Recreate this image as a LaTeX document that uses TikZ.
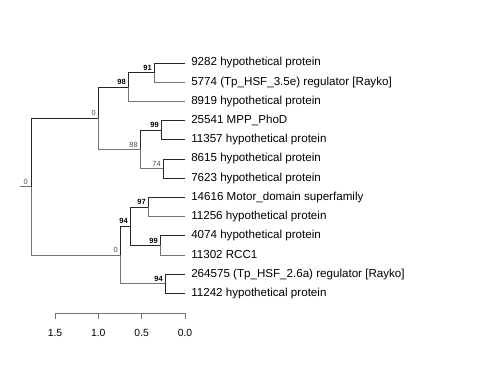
\documentclass[tikz,border=0pt]{standalone}
\usepackage{fontspec}
\setmainfont{Liberation Sans}
\usetikzlibrary{calc}
\definecolor{edgedark}{gray}{0.15}
\definecolor{edgelight}{gray}{0.45}
\def\TipX{185}
\def\Gap{19.2}

\begin{document}
\begin{tikzpicture}[x=0.75pt,y=-0.75pt,
  leaf/.style={anchor=west, inner xsep=4.5pt, inner ysep=0pt, font=\fontsize{8.7}{10}\selectfont},
  boot/.style={anchor=south east, inner sep=0.4pt, font=\fontsize{5.6}{6}\selectfont\bfseries},
  weak/.style={anchor=south east, inner sep=0.4pt, text=black!70, font=\fontsize{5.6}{6}\selectfont},
  br/.style={draw=edgedark, line width=0.6pt},
  brl/.style={draw=edgelight, line width=0.6pt},
  tick/.style={font=\fontsize{7.8}{9}\selectfont}]
\useasboundingbox (0,0) rectangle (480,384);

% tips
\node[leaf] (t9282) at (\TipX, 63) {9282 hypothetical protein};
\node[leaf] (t5774) at (\TipX, 63 + 1*\Gap) {5774 (Tp\_HSF\_3.5e) regulator [Rayko]};
\node[leaf] (t8919) at (\TipX, 63 + 2*\Gap) {8919 hypothetical protein};
\node[leaf] (t25541) at (\TipX, 63 + 3*\Gap) {25541 MPP\_PhoD};
\node[leaf] (t11357) at (\TipX, 63 + 4*\Gap) {11357 hypothetical protein};
\node[leaf] (t8615) at (\TipX, 63 + 5*\Gap) {8615 hypothetical protein};
\node[leaf] (t7623) at (\TipX, 63 + 6*\Gap) {7623 hypothetical protein};
\node[leaf] (t14616) at (\TipX, 63 + 7*\Gap) {14616 Motor\_domain superfamily};
\node[leaf] (t11256) at (\TipX, 63 + 8*\Gap) {11256 hypothetical protein};
\node[leaf] (t4074) at (\TipX, 63 + 9*\Gap) {4074 hypothetical protein};
\node[leaf] (t11302) at (\TipX, 63 + 10*\Gap) {11302 RCC1};
\node[leaf] (t264575) at (\TipX, 63 + 11*\Gap) {264575 (Tp\_HSF\_2.6a) regulator [Rayko]};
\node[leaf] (t11242) at (\TipX, 63 + 12*\Gap) {11242 hypothetical protein};

% inner nodes
\coordinate (n91) at (154, 72.6);
\coordinate (n98) at (128, 87);
\coordinate (n99a) at (161, 130.2);
\coordinate (n74) at (163, 168.6);
\coordinate (n88) at (140, 149.4);
\coordinate (up0) at (98, 118.2);
\coordinate (n97) at (148, 207);
\coordinate (n99b) at (160, 245.4);
\coordinate (n94a) at (130, 226.2);
\coordinate (n94b) at (165, 283.8);
\coordinate (lo0) at (120, 255);
\coordinate (root) at (31, 186.6);
\coordinate (stub) at (20, 186.6);

% branches
\draw[brl] (stub) -- (root);
\draw[br] (root) |- (up0);
\draw[brl] (root) |- (lo0);
\draw[br] (up0) |- (n98);
\draw[brl] (up0) |- (n88);
\draw[br] (n98) |- (n91);
\draw[brl] (n98) |- (t8919.west);
\draw[br] (n91) |- (t9282.west);
\draw[brl] (n91) |- (t5774.west);
\draw[br] (n88) |- (n99a);
\draw[brl] (n88) |- (n74);
\draw[br] (n99a) |- (t25541.west);
\draw[br] (n99a) |- (t11357.west);
\draw[br] (n74) |- (t8615.west);
\draw[br] (n74) |- (t7623.west);
\draw[br] (lo0) |- (n94a);
\draw[brl] (lo0) |- (n94b);
\draw[br] (n94a) |- (n97);
\draw[br] (n94a) |- (n99b);
\draw[br] (n97) |- (t14616.west);
\draw[brl] (n97) |- (t11256.west);
\draw[br] (n99b) |- (t4074.west);
\draw[brl] (n99b) |- (t11302.west);
\draw[br] (n94b) |- (t264575.west);
\draw[br] (n94b) |- (t11242.west);

% support values
\node[boot] at ($(n91)+(-1.5,-1.5)$) {91};
\node[boot] at ($(n98)+(-1.5,-1.5)$) {98};
\node[weak] at ($(up0)+(-1.5,-1.5)$) {0};
\node[boot] at ($(n99a)+(-1.5,-1.5)$) {99};
\node[weak] at ($(n88)+(-1.5,-1.5)$) {88};
\node[weak] at ($(n74)+(-1.5,-1.5)$) {74};
\node[weak] at ($(root)+(-2.5,-1.5)$) {0};
\node[boot] at ($(n97)+(-1.5,-1.5)$) {97};
\node[boot] at ($(n94a)+(-1.5,-1.5)$) {94};
\node[weak] at ($(lo0)+(-1.5,-1.5)$) {0};
\node[boot] at ($(n99b)+(-1.5,-1.5)$) {99};
\node[boot] at ($(n94b)+(-1.5,-1.5)$) {94};

% scale bar
\coordinate (s15) at (55, 313);
\coordinate (s10) at (98.3, 313);
\coordinate (s05) at (141.7, 313);
\coordinate (s00) at (185, 313);
\draw[brl] (s15) -- (s00);
\foreach \s/\lab in {s15/1.5, s10/1.0, s05/0.5, s00/0.0} {
  \draw[brl] (\s) -- ++(0, 6);
  \node[tick] at ($(\s)+(0, 20)$) {\lab};
}
\end{tikzpicture}
\end{document}
